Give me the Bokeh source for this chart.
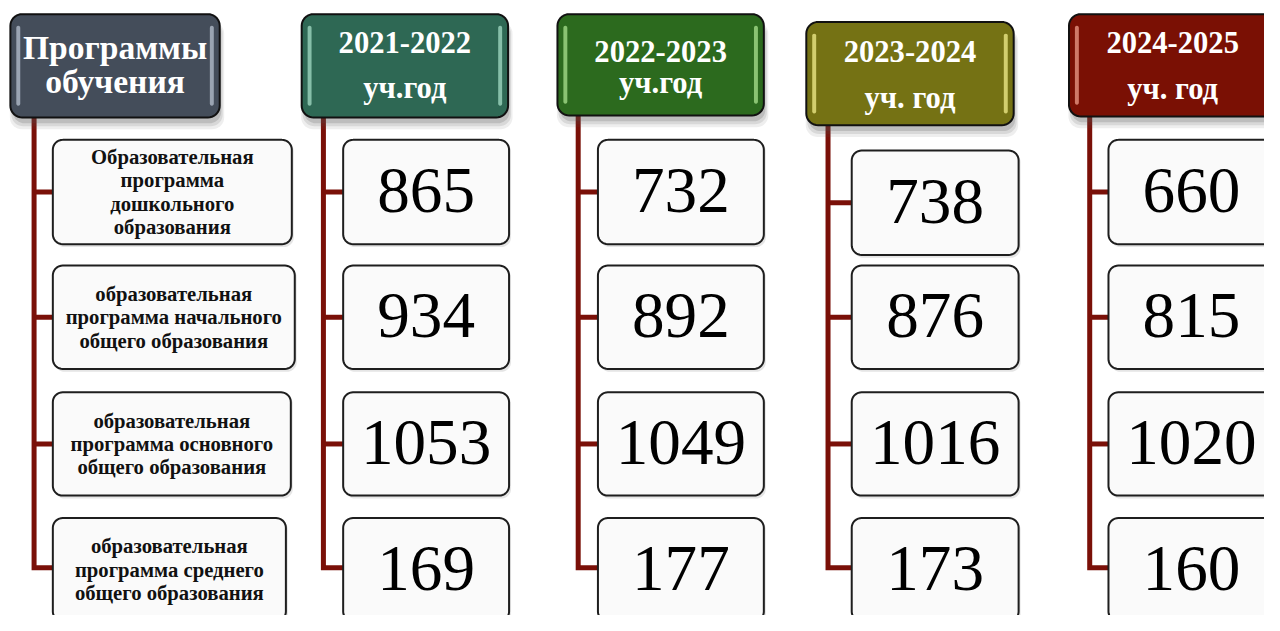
import numpy as np
from bokeh.plotting import figure
from bokeh.models import Range1d
from bokeh.core.properties import value
from bokeh.embed import file_html
from bokeh.resources import INLINE

# ---------------- data ----------------
header_line1 = ["Программы", "2021-2022", "2022-2023", "2023-2024", "2024-2025"]
header_line2 = ["обучения", "уч.год", "уч.год", "уч. год", "уч. год"]
programs = [
    "Образовательная\nпрограмма\nдошкольного\nобразования",
    "образовательная\nпрограмма начального\nобщего образования",
    "образовательная\nпрограмма основного\nобщего образования",
    "образовательная\nпрограмма среднего\nобщего образования",
]
v_2021_2022 = [865, 934, 1053, 169]
v_2022_2023 = [732, 892, 1049, 177]
v_2023_2024 = [738, 876, 1016, 173]
v_2024_2025 = [660, 815, 1020, 160]
year_values = [v_2021_2022, v_2022_2023, v_2023_2024, v_2024_2025]

# ---------------- layout (reference pixel space) ----------------
head_box = [(10, 222, 14, 120), (305, 514, 14, 120), (564, 773, 14, 118),
            (816, 1026, 22, 128), (1082, 1292, 14, 119)]
head_fill = ["#444D5A", "#2E6854", "#2C6A1E", "#757214", "#7A1004"]
head_light = ["#B7C2D0", "#A6DCC6", "#A9E18F", "#F2EE8C", "#EE9C8A"]
head_c1 = [48, 43, 52, 52, 43]
head_c2 = [83, 90, 85, 100, 91]
head_fs = [34, 31, 31, 31, 31]
spine_x = [34, 327, 585, 838, 1103]
col0_right = [295, 298, 294, 289]
col_x = [(347, 515), (605, 773), (862, 1031), (1122, 1290)]
rows = [(143, 250), (272, 378), (402, 508), (531, 637)]
rows_col3 = [(154, 261), (272, 378), (402, 508), (531, 637)]
CONN = "#7A1008"

W, H = 1264, 615
S = W / 1280.0


def fs(px):
    return "%.1fpx" % (px * S)


def rrect(x0, x1, y0, y1, r, n=10):
    xs, ys = [], []
    corners = [(x1 - r, y0 + r, -np.pi / 2, 0), (x1 - r, y1 - r, 0, np.pi / 2),
               (x0 + r, y1 - r, np.pi / 2, np.pi), (x0 + r, y0 + r, np.pi, 1.5 * np.pi)]
    for cx, cy, a0, a1 in corners:
        t = np.linspace(a0, a1, n)
        xs.extend(cx + r * np.cos(t))
        ys.extend(cy + r * np.sin(t))
    return list(xs), list(ys)


p = figure(width=W, height=H, output_backend="svg", toolbar_location=None,
           x_range=Range1d(0, 1280), y_range=Range1d(631, 0), min_border=0)
p.axis.visible = False
p.grid.visible = False
p.outline_line_color = None
p.background_fill_color = "white"
p.border_fill_color = "white"

# ---------------- connectors ----------------
for c in range(5):
    x = spine_x[c]
    top = head_box[c][3]
    if c == 0:
        rr = [(rows[i][0], rows[i][1], 53) for i in range(4)]
    else:
        rws = rows_col3 if c == 3 else rows
        rr = [(rws[i][0], rws[i][1], col_x[c - 1][0]) for i in range(4)]
    ymid = [(a + b) / 2 for a, b, _ in rr]
    ymid[3] = 582
    lefts = [l for _, _, l in rr]
    p.multi_line(xs=[[x, x, lefts[3]]], ys=[[top, ymid[3], ymid[3]]],
                 line_color=CONN, line_width=5, line_join="miter")
    p.segment(x0=[x] * 3, y0=ymid[:3], x1=lefts[:3], y1=ymid[:3],
              line_color=CONN, line_width=5)

# ---------------- header boxes ----------------
for c in range(5):
    x0, x1, y0, y1 = head_box[c]
    for k, a in zip([9, 6, 3], [0.10, 0.14, 0.2]):
        sx, sy = rrect(x0 + 4 - k / 2, x1 + k / 2, y0 + 8, y1 + 3 + k, 12)
        p.patch(sx, sy, fill_color="#555555", fill_alpha=a, line_color=None)
    bx, by = rrect(x0, x1, y0, y1, 12)
    p.patch(bx, by, fill_color=head_fill[c], line_color="#111111", line_width=2)
    for hx in (x0 + 6, x1 - 10):
        lx, ly = rrect(hx, hx + 4, y0 + 12, y1 - 12, 2, n=4)
        p.patch(lx, ly, fill_color=head_light[c], fill_alpha=0.75, line_color=None)
    cx = (x0 + x1) / 2
    p.text(x=[cx], y=[head_c1[c]], text=[header_line1[c]], text_color="white",
           text_font=value("Liberation Serif"), text_font_style="bold",
           text_font_size=fs(head_fs[c]), text_align="center", text_baseline="middle")
    p.text(x=[cx], y=[head_c2[c]], text=[header_line2[c]], text_color="white",
           text_font=value("Liberation Serif"), text_font_style="bold",
           text_font_size=fs(head_fs[c]), text_align="center", text_baseline="middle")

# ---------------- program label boxes ----------------
for i in range(4):
    x0, x1 = 53, col0_right[i]
    y0, y1 = rows[i]
    sx, sy = rrect(x0 + 2, x1 + 2, y0 + 2, y1 + 3, 10)
    p.patch(sx, sy, fill_color="#999999", fill_alpha=0.25, line_color=None)
    bx, by = rrect(x0, x1, y0, y1, 10)
    p.patch(bx, by, fill_color="#FAFAFA", line_color="#1E1E1E", line_width=2)
    p.text(x=[(x0 + x1) / 2], y=[(y0 + y1) / 2], text=[programs[i]], text_color="#111111",
           text_font=value("Liberation Serif"), text_font_style="bold",
           text_font_size=fs(21), text_align="center", text_baseline="middle",
           text_line_height=1.06)

# ---------------- value boxes ----------------
for c in range(4):
    x0, x1 = col_x[c]
    rws = rows_col3 if c == 2 else rows
    for i in range(4):
        y0, y1 = rws[i]
        sx, sy = rrect(x0 + 2, x1 + 2, y0 + 2, y1 + 3, 10)
        p.patch(sx, sy, fill_color="#999999", fill_alpha=0.25, line_color=None)
        bx, by = rrect(x0, x1, y0, y1, 10)
        p.patch(bx, by, fill_color="#FAFAFA", line_color="#1E1E1E", line_width=2)
        p.text(x=[(x0 + x1) / 2], y=[(y0 + y1) / 2 - 1.5], text=[str(year_values[c][i])],
               text_color="black", text_font=value("Liberation Serif"),
               text_font_size=fs(66), text_align="center", text_baseline="middle")

open("out.html", "w").write(file_html(p, INLINE))
